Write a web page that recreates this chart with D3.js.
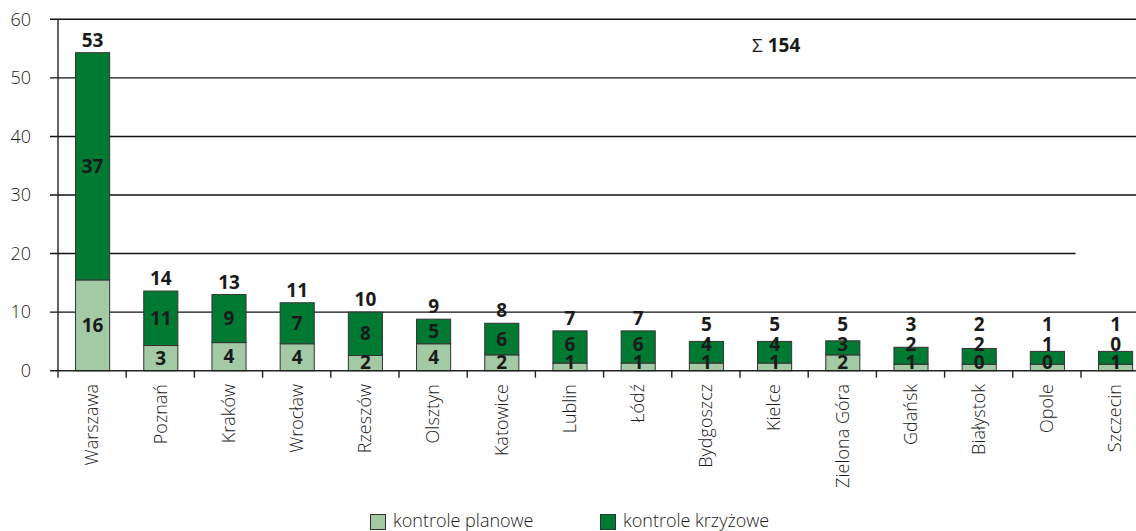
<!doctype html>
<html>
<head>
	<meta charset="utf-8">
	<title></title>
	<style>
		body { margin: 0; background: #fff; }
		text { font-family: "Open Sans", sans-serif; fill: #1a1a1a; }
		.tick-label { font-size: 18px; font-weight: 300; }
		.cat-label { font-size: 18px; font-weight: 300; }
		.val { font-size: 19px; font-weight: 700; }
		.grid { stroke: #111; stroke-width: 1.4; }
		.axis { stroke: #222; stroke-width: 1.4; }
		.bar { stroke: #333; stroke-width: 1; }
	</style>
</head>
<body>

	<svg width="1136" height="531"></svg>

	<script src="https://d3js.org/d3.v7.min.js"></script>
	<script>

		// categories
		const cities = [ "Warszawa", "Poznań", "Kraków", "Wrocław", "Rzeszów", "Olsztyn", "Katowice", "Lublin",
			"Łódź", "Bydgoszcz", "Kielce", "Zielona Góra", "Gdańsk", "Białystok", "Opole", "Szczecin" ];

		// bar heights as drawn
		const planowe = [ 15.5, 4.3, 4.8, 4.6, 2.6, 4.6, 2.7, 1.3, 1.3, 1.3, 1.3, 2.7, 1.1, 1.1, 1.1, 1.1 ];
		const krzyzowe = [ 38.8, 9.3, 8.2, 7.0, 7.4, 4.2, 5.4, 5.5, 5.5, 3.7, 3.7, 2.4, 2.9, 2.7, 2.2, 2.2 ];

		// printed labels
		const planoweLabels = [ 16, 3, 4, 4, 2, 4, 2, 1, 1, 1, 1, 2, 1, 0, 0, 1 ];
		const krzyzoweLabels = [ 37, 11, 9, 7, 8, 5, 6, 6, 6, 4, 4, 3, 2, 2, 1, 0 ];
		const totalLabels = [ 53, 14, 13, 11, 10, 9, 8, 7, 7, 5, 5, 5, 3, 2, 1, 1 ];
		const sumLabel = 154;

		const yTicks = [ 0, 10, 20, 30, 40, 50, 60 ];
		const seriesNames = [ "kontrole planowe", "kontrole krzyżowe" ];
		const colors = [ "#a3caa5", "#007a33" ];

		const svg = d3.select( "svg" );

		const left = 58, right = 1149.2;

		const x = d3.scaleBand()
				.domain( cities )
				.range( [ left, right ] )
				.paddingInner( 0.5 )
				.paddingOuter( 0.25 );

		const y = d3.scaleLinear()
				.domain( [ 0, 60 ] )
				.range( [ 370.7, 19.3 ] );

		const step = x.step();

		// gridlines (the 20 line stops short in the original)
		svg.selectAll( ".grid" )
			.data( yTicks.filter( d => d > 0 ) )
			.enter().append( "line" )
				.attr( "class", "grid" )
				.attr( "x1", left - 8 )
				.attr( "x2", d => d === 20 ? 1075.5 : 1136 )
				.attr( "y1", d => y( d ) )
				.attr( "y2", d => y( d ) );

		svg.selectAll( ".tick-label" )
			.data( yTicks )
			.enter().append( "text" )
				.attr( "class", "tick-label" )
				.attr( "x", 31 )
				.attr( "y", d => y( d ) )
				.attr( "dy", "0.35em" )
				.attr( "text-anchor", "end" )
				.text( d => d );

		// stacked bars
		const stackData = cities.map( ( c, i ) => ( { city: c, p: planowe[ i ], k: krzyzowe[ i ] } ) );
		const series = d3.stack().keys( [ "p", "k" ] )( stackData );

		svg.selectAll( ".layer" )
			.data( series )
			.enter().append( "g" )
				.attr( "class", "layer" )
				.attr( "fill", ( d, i ) => colors[ i ] )
			.selectAll( "rect" )
			.data( d => d )
			.enter().append( "rect" )
				.attr( "class", "bar" )
				.attr( "x", d => x( d.data.city ) + 0.5 )
				.attr( "width", x.bandwidth() )
				.attr( "y", d => y( d[ 1 ] ) )
				.attr( "height", d => y( d[ 0 ] ) - y( d[ 1 ] ) );

		// axes
		svg.append( "line" )
			.attr( "class", "axis" )
			.attr( "x1", left - 8 ).attr( "x2", 1136 )
			.attr( "y1", y( 0 ) ).attr( "y2", y( 0 ) );

		svg.append( "line" )
			.attr( "class", "axis" )
			.attr( "x1", left ).attr( "x2", left )
			.attr( "y1", y( 60 ) ).attr( "y2", y( 0 ) + 7 );

		svg.selectAll( ".cat-tick" )
			.data( d3.range( 1, cities.length ) )
			.enter().append( "line" )
				.attr( "class", "axis" )
				.attr( "x1", i => left + i * step )
				.attr( "x2", i => left + i * step )
				.attr( "y1", y( 0 ) )
				.attr( "y2", y( 0 ) + 7 );

		// category labels
		svg.selectAll( ".cat-label" )
			.data( cities )
			.enter().append( "text" )
				.attr( "class", "cat-label" )
				.attr( "transform", d => "translate(" + ( x( d ) + x.bandwidth() / 2 ) + "," + 384 + ") rotate(-90)" )
				.attr( "dy", "0.35em" )
				.attr( "text-anchor", "end" )
				.text( d => d );

		// value labels
		cities.forEach( ( c, i ) => {
			const cx = x( c ) + x.bandwidth() / 2 + 0.5;
			const pc = Math.min( ( y( 0 ) + y( planowe[ i ] ) ) / 2, 362 );
			const kc = Math.min( ( y( planowe[ i ] ) + y( planowe[ i ] + krzyzowe[ i ] ) ) / 2, pc - 17.5 );
			const tb = Math.min( y( planowe[ i ] + krzyzowe[ i ] ) - 6, kc - 14 );

			svg.append( "text" ).attr( "class", "val" )
				.attr( "x", cx ).attr( "y", pc ).attr( "dy", "0.35em" )
				.attr( "text-anchor", "middle" ).text( planoweLabels[ i ] );
			svg.append( "text" ).attr( "class", "val" )
				.attr( "x", cx ).attr( "y", kc ).attr( "dy", "0.35em" )
				.attr( "text-anchor", "middle" ).text( krzyzoweLabels[ i ] );
			svg.append( "text" ).attr( "class", "val" )
				.attr( "x", cx ).attr( "y", tb )
				.attr( "text-anchor", "middle" ).text( totalLabels[ i ] );
		});

		// sum
		const sum = svg.append( "text" )
			.attr( "x", 752 ).attr( "y", 52 )
			.style( "font-size", "19px" );
		sum.append( "tspan" ).style( "font-weight", 400 ).text( "Σ " );
		sum.append( "tspan" ).style( "font-weight", 700 ).text( sumLabel );

		// legend
		const legendX = [ 370, 600 ];
		const legend = svg.selectAll( ".legend" )
			.data( seriesNames )
			.enter().append( "g" )
				.attr( "class", "legend" )
				.attr( "transform", ( d, i ) => "translate(" + legendX[ i ] + ",514)" );

		legend.append( "rect" )
			.attr( "width", 15 ).attr( "height", 15 )
			.attr( "x", 0.5 ).attr( "y", 0.5 )
			.attr( "fill", ( d, i ) => colors[ i ] )
			.attr( "stroke", "#333" );

		legend.append( "text" )
			.attr( "x", 23 ).attr( "y", 13 )
			.style( "font-size", "18px" ).style( "font-weight", 300 )
			.text( d => d );

	</script>

</body>
</html>
